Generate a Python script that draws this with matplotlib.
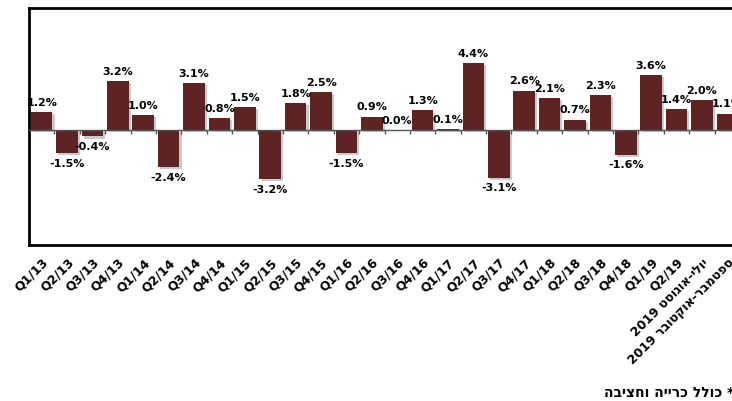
import matplotlib
matplotlib.use("Agg")
import matplotlib.pyplot as plt
import matplotlib.patheffects as pe
import numpy as np

# quarters plus two bi-monthly periods (Hebrew kept in visual order: matplotlib has no bidi)
QUARTERS = [f"Q{q}/{y}" for y in range(13, 19) for q in range(1, 5)] + ["Q1/19", "Q2/19"]
HEB_LABELS = ["2019 טסוגוא-ילוי", "2019 רבוטקוא-רבמטפס"]
LABELS = QUARTERS + HEB_LABELS
VALUES = [1.2, -1.5, -0.4, 3.2, 1.0, -2.4, 3.1, 0.8, 1.5, -3.2, 1.8, 2.5,
          -1.5, 0.9, 0.0, 1.3, 0.1, 4.4, -3.1, 2.6, 2.1, 0.7, 2.3, -1.6,
          3.6, 1.4, 2.0, 1.1]
FOOTNOTE = "הביצחו היירכ ללוכ *"

BAR_COLOR = "#5e2323"

plt.rcParams["font.family"] = ["DejaVu Sans", "Liberation Sans"]

W, H = 732, 401
fig = plt.figure(figsize=(W / 100, H / 100), dpi=100)
ax = fig.add_axes([29 / W, 1 - 245 / H, 711 / W, 237 / H])

x = np.arange(len(VALUES))
bars = ax.bar(x, VALUES, width=0.85, color=BAR_COLOR, zorder=3)
for b in bars:
    b.set_path_effects([pe.SimplePatchShadow(offset=(1.5, -1.5), shadow_rgbFace="#999999", alpha=0.5),
                        pe.Normal()])

# zero line with small tick marks between categories
ax.axhline(0, color="#555555", lw=1, zorder=4)
ax.vlines(x[:-1] + 0.5, -0.25, 0, color="#555555", lw=1, zorder=4)

for i, v in enumerate(VALUES):
    if v >= 0:
        ax.annotate(f"{v:.1f}%", (i, v), xytext=(0, 3), textcoords="offset points",
                    ha="center", va="bottom", fontsize=8, fontweight="bold")
    else:
        ax.annotate(f"{v:.1f}%", (i, v), xytext=(0, -4), textcoords="offset points",
                    ha="center", va="top", fontsize=8, fontweight="bold")

ax.set_xlim(-0.5, len(VALUES) - 0.5)
ax.set_ylim(-7.5, 8)
ax.set_yticks([])
ax.set_xticks(x)
ax.set_xticklabels(LABELS, rotation=45, ha="right", rotation_mode="anchor",
                   fontsize=9, fontweight="bold")
ax.tick_params(axis="x", length=0, pad=8)
for sp in ax.spines.values():
    sp.set_linewidth(2)
    sp.set_color("black")

fig.text(604 / W, 1 - 393 / H, FOOTNOTE, ha="left", va="center",
         fontsize=10, fontweight="bold")

fig.savefig("out.png", dpi=100)
